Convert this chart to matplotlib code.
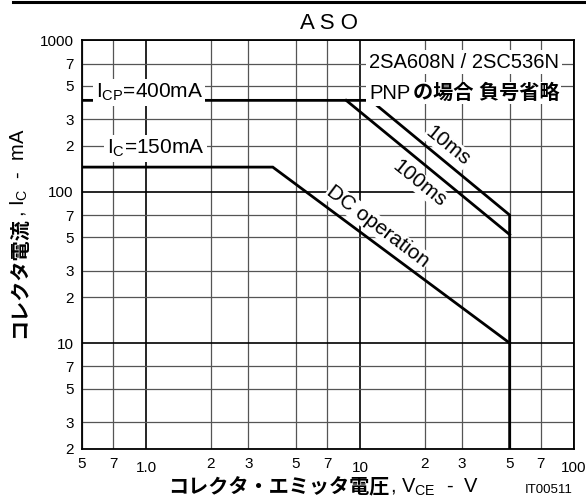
import matplotlib
matplotlib.use('Agg')
import matplotlib.pyplot as plt
from matplotlib.lines import Line2D
from matplotlib.ticker import FixedLocator, FixedFormatter

plt.rcParams['font.family'] = ['Liberation Sans', 'Noto Sans CJK JP']
plt.rcParams['mathtext.fontset'] = 'custom'
plt.rcParams['mathtext.rm'] = 'Liberation Sans'
plt.rcParams['mathtext.it'] = 'Liberation Sans:italic'
plt.rcParams['mathtext.bf'] = 'Liberation Sans:bold'

# ASO curves (V_CE [V], I_C [mA])
v_10ms = [0.5, 11.2, 50, 50]
i_10ms = [400, 400, 70, 2]
v_100ms = [8.6, 50]
i_100ms = [400, 52]
v_dc = [0.5, 3.9, 50]
i_dc = [145, 145, 10]

# assi
x_major = [1, 10, 100]
x_major_lab = ['1.0', '10', '100']
x_minor = [0.5, 0.7, 2, 3, 5, 7, 20, 30, 50, 70]
x_minor_lab = ['5', '7', '2', '3', '5', '7', '2', '3', '5', '7']
y_major = [10, 100, 1000]
y_major_lab = ['10', '100', '1000']
y_minor = [2, 3, 5, 7, 20, 30, 50, 70, 200, 300, 500, 700]
y_minor_lab = ['2', '3', '5', '7', '2', '3', '5', '7', '2', '3', '5', '7']

fig = plt.figure(figsize=(5.86, 5.01), dpi=100)
ax = fig.add_axes([0.140, 0.104, 0.8395, 0.816])

ax.set_xscale('log')
ax.set_yscale('log')
ax.set_xlim(0.5, 100)
ax.set_ylim(2, 1000)

ax.xaxis.set_major_locator(FixedLocator(x_major))
ax.xaxis.set_major_formatter(FixedFormatter(x_major_lab))
ax.xaxis.set_minor_locator(FixedLocator(x_minor))
ax.xaxis.set_minor_formatter(FixedFormatter(x_minor_lab))
ax.yaxis.set_major_locator(FixedLocator(y_major))
ax.yaxis.set_major_formatter(FixedFormatter(y_major_lab))
ax.yaxis.set_minor_locator(FixedLocator(y_minor))
ax.yaxis.set_minor_formatter(FixedFormatter(y_minor_lab))

ax.tick_params(axis='both', which='both', length=0, labelsize=11)
ax.tick_params(axis='x', which='minor', pad=6)
ax.tick_params(axis='x', which='major', pad=9)
ax.tick_params(axis='y', which='both', pad=6)

ax.grid(True, which='major', color='black', lw=1.2)
ax.grid(True, which='minor', color='#555555', lw=0.9)
ax.set_axisbelow(True)
for s in ax.spines.values():
    s.set_linewidth(1.3)

ax.plot(v_10ms, i_10ms, color='black', lw=2.0, solid_joinstyle='miter')
ax.plot(v_100ms, i_100ms, color='black', lw=2.0)
ax.plot(v_dc, i_dc, color='black', lw=2.0, solid_joinstyle='miter')

box = dict(facecolor='white', edgecolor='none', pad=2)

ax.text(0.578, 453, r'I$_{\mathrm{CP}}$=400mA', ha='left', va='center', fontsize=15, bbox=box)
ax.text(0.654, 193, r'I$_{\mathrm{C}}$=150mA', ha='left', va='center', fontsize=15, bbox=box)

ax.text(11.0, 715, '2SA608N / 2SC536N', ha='left', va='center', fontsize=14.5, bbox=box)
t = ax.text(11.0, 446, 'PNP', ha='left', va='center', fontsize=14.5, bbox=box)
ax.annotate('の場合 負号省略', xy=(1, 0), xycoords=t, xytext=(2, 0), textcoords='offset points',
    ha='left', va='bottom', fontsize=14.5, fontweight='bold',
    bbox=dict(facecolor='white', edgecolor='none', pad=1))

ax.text(25.7, 199, '10ms', rotation=-39, rotation_mode='anchor', ha='center', va='center',
    fontsize=15, bbox=dict(facecolor='white', edgecolor='none', pad=0.5))
ax.text(19.0, 113, '100ms', rotation=-39, rotation_mode='anchor', ha='center', va='center',
    fontsize=15, bbox=dict(facecolor='white', edgecolor='none', pad=0.5))
ax.text(12.1, 58.6, 'DC operation', rotation=-37, rotation_mode='anchor', ha='center', va='center',
    fontsize=15, bbox=dict(facecolor='white', edgecolor='none', pad=0.5))

fig.text(0.561, 0.953, 'A S O', ha='center', va='center', fontsize=16)
fig.add_artist(Line2D([0.022, 1.0], [0.996, 0.996], color='black', lw=2.2, transform=fig.transFigure))

fig.text(0.665, 0.016, 'コレクタ・エミッタ電圧', ha='right', va='baseline', fontsize=14.5, fontweight='bold')
fig.text(0.665, 0.016, r', V$_{\mathrm{CE}}$  -  V', ha='left', va='baseline', fontsize=14.5)
fig.text(0.978, 0.016, 'IT00511', ha='right', va='baseline', fontsize=9.5)

fig.text(0.043, 0.567, 'コレクタ電流', rotation=90, rotation_mode='anchor', ha='right', va='baseline',
    fontsize=14.5, fontweight='bold')
fig.text(0.043, 0.567, r', I$_{\mathrm{C}}$  -  mA', rotation=90, rotation_mode='anchor', ha='left', va='baseline',
    fontsize=14.5)

fig.savefig('out.png', dpi=100, facecolor='white')
